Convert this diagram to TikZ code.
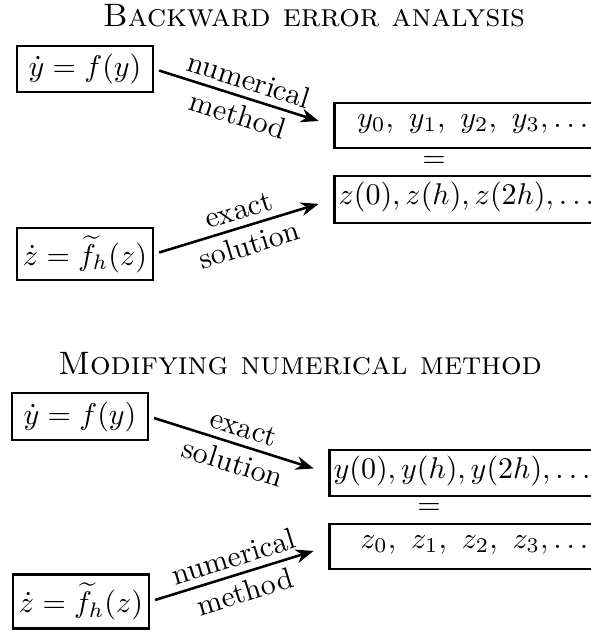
\documentclass[tikz,border=0pt]{standalone}
\usetikzlibrary{arrows.meta}
\begin{document}
\begin{tikzpicture}[x=0.33333pt,y=-0.33333pt,
 lbox/.style={draw, line width=0.85pt, minimum width=45.3pt, inner sep=0pt},
 rbox/.style={draw, line width=0.85pt, minimum width=100pt, anchor=west, inner sep=0pt},
 txt/.style={inner sep=0pt},
 ttl/.style={anchor=base, font=\fontsize{10.8}{13}\selectfont},
 arr/.style={line width=0.85pt, -{Stealth[length=6pt,width=4.6pt]}, shorten <=1.7pt, shorten >=5pt},
 lab/.style={sloped, midway, inner sep=2.2pt}
]
\useasboundingbox (0,0) rectangle (591,633);
% ---------- top diagram ----------
\node[ttl] (T1) at (314,26) {\textsc{Backward error analysis}};
\node[lbox, minimum height=15.3pt] (A) at (85,69) {$\dot y = f(y)$};
\node[lbox, minimum height=17.3pt] (B) at (85,254) {$\dot z = \widetilde{f}_h(z)$};
\node[rbox, minimum height=15pt] (R1) at (333,125.5) {};
\node[rbox, minimum height=15.6pt] (R2) at (333,199.5) {};
\node[txt, anchor=base east] (R1t) at (589,127) {$y_0,\ y_1,\ y_2,\ y_3,\dots$};
\node[txt, anchor=base west] (R2t) at (338,204.5) {$z(0),z(h),z(2h),\dots$};
\node (E1) at (434,162) {$=$};
\draw[arr] (A.east) -- (R1.west)
  node[lab, above] {numerical} node[lab, below] {method};
\draw[arr] (B.east) -- (R2.west)
  node[lab, above] {exact} node[lab, below] {solution};
% ---------- bottom diagram ----------
\node[ttl] (T2) at (300,374) {\textsc{Modifying numerical method}};
\node[lbox, minimum height=15.7pt] (C) at (80,416.5) {$\dot y = f(y)$};
\node[lbox, minimum height=18pt] (D) at (81,601.5) {$\dot z = \widetilde{f}_h(z)$};
\node[rbox, minimum height=15.3pt] (R3) at (328,473) {};
\node[rbox, minimum height=15pt] (R4) at (328,546.5) {};
\node[txt, anchor=base west] (R3t) at (333,478) {$y(0),y(h),y(2h),\dots$};
\node[txt, anchor=base east] (R4t) at (589,548) {$z_0,\ z_1,\ z_2,\ z_3,\dots$};
\node (E2) at (429,509) {$=$};
\draw[arr] (C.east) -- (R3.west)
  node[lab, above] {exact} node[lab, below] {solution};
\draw[arr] (D.east) -- (R4.west)
  node[lab, above] {numerical} node[lab, below] {method};
\end{tikzpicture}
\end{document}
